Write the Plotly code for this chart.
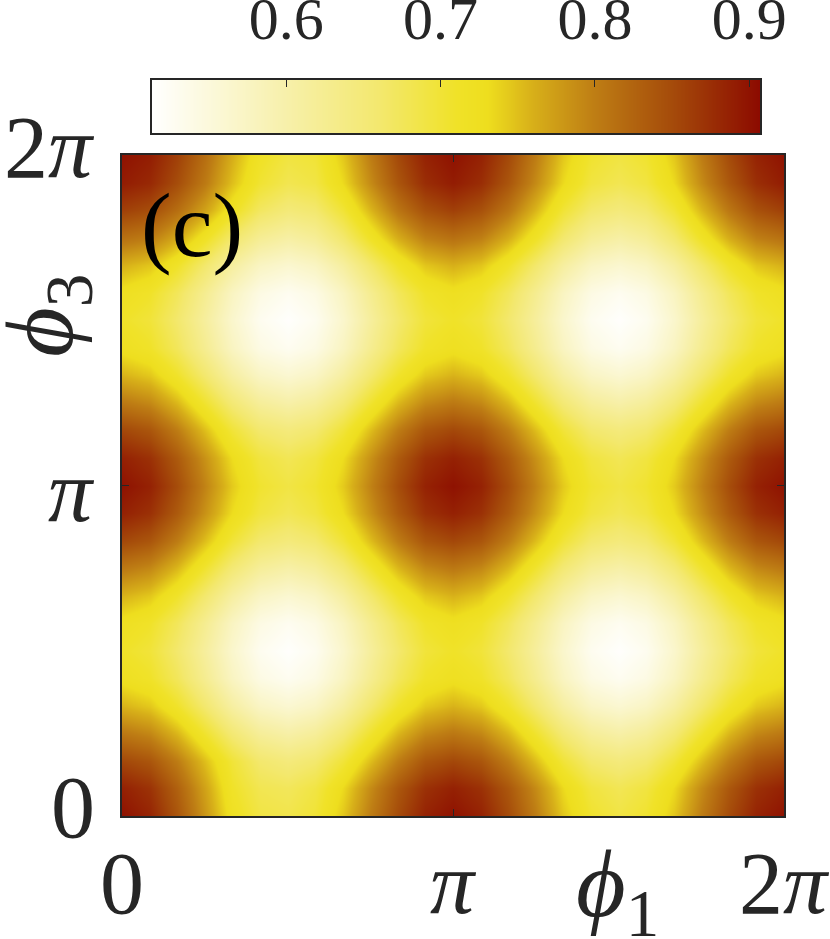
import plotly.graph_objects as go

# phi_1 and phi_3 sample positions, in units of pi
phi1_over_pi = [k / 12 for k in range(25)]
phi3_over_pi = [k / 12 for k in range(25)]

# Values, bottom row (phi_3 = 0) to top row (phi_3 = 2 pi)
z_values = [
[.900,.884,.840,.780,.720,.690,.685,.700,.745,.800,.850,.886,.900,.886,.850,.800,.745,.705,.690,.705,.745,.800,.850,.885,.900],
[.887,.871,.828,.770,.710,.680,.674,.690,.733,.788,.838,.873,.887,.873,.838,.788,.733,.693,.678,.693,.733,.788,.838,.873,.887],
[.853,.839,.801,.750,.698,.660,.647,.660,.698,.750,.801,.839,.853,.839,.801,.750,.698,.660,.647,.660,.698,.750,.801,.839,.853],
[.805,.791,.755,.704,.654,.617,.603,.617,.654,.704,.755,.791,.805,.791,.755,.704,.654,.617,.603,.617,.654,.704,.755,.791,.805],
[.758,.744,.708,.659,.609,.573,.560,.573,.609,.659,.708,.744,.758,.744,.708,.659,.609,.573,.560,.573,.609,.659,.708,.744,.758],
[.723,.709,.674,.625,.576,.541,.528,.541,.576,.625,.674,.709,.723,.709,.674,.625,.576,.541,.528,.541,.576,.625,.674,.709,.723],
[.710,.697,.661,.613,.565,.529,.516,.529,.565,.613,.661,.697,.710,.697,.661,.613,.565,.529,.516,.529,.565,.613,.661,.697,.710],
[.723,.709,.674,.625,.576,.541,.528,.541,.576,.625,.674,.709,.723,.709,.674,.625,.576,.541,.528,.541,.576,.625,.674,.709,.723],
[.758,.744,.708,.659,.609,.573,.560,.573,.609,.659,.708,.744,.758,.744,.708,.659,.609,.573,.560,.573,.609,.659,.708,.744,.758],
[.805,.791,.755,.704,.654,.617,.603,.617,.654,.704,.755,.791,.805,.791,.755,.704,.654,.617,.603,.617,.654,.704,.755,.791,.805],
[.853,.839,.801,.750,.698,.660,.647,.660,.698,.750,.801,.839,.853,.839,.801,.750,.698,.660,.647,.660,.698,.750,.801,.839,.853],
[.887,.873,.835,.783,.731,.693,.678,.693,.731,.783,.835,.873,.887,.873,.835,.783,.731,.693,.678,.693,.731,.783,.835,.873,.887],
[.900,.886,.848,.795,.743,.704,.690,.704,.743,.795,.848,.886,.900,.886,.848,.795,.743,.704,.690,.704,.743,.795,.848,.886,.900],
[.887,.873,.835,.783,.731,.693,.678,.693,.731,.783,.835,.873,.887,.873,.835,.783,.731,.693,.678,.693,.731,.783,.835,.873,.887],
[.853,.839,.801,.750,.698,.660,.647,.660,.698,.750,.801,.839,.853,.839,.801,.750,.698,.660,.647,.660,.698,.750,.801,.839,.853],
[.805,.791,.755,.704,.654,.617,.603,.617,.654,.704,.755,.791,.805,.791,.755,.704,.654,.617,.603,.617,.654,.704,.755,.791,.805],
[.758,.744,.708,.659,.609,.573,.560,.573,.609,.659,.708,.744,.758,.744,.708,.659,.609,.573,.560,.573,.609,.659,.708,.744,.758],
[.723,.709,.674,.625,.576,.541,.528,.541,.576,.625,.674,.709,.723,.709,.674,.625,.576,.541,.528,.541,.576,.625,.674,.709,.723],
[.710,.697,.661,.613,.565,.529,.516,.529,.565,.613,.661,.697,.710,.697,.661,.613,.565,.529,.516,.529,.565,.613,.661,.697,.710],
[.723,.709,.674,.625,.576,.541,.528,.541,.576,.625,.674,.709,.723,.709,.674,.625,.576,.541,.528,.541,.576,.625,.674,.709,.723],
[.760,.746,.710,.661,.611,.575,.562,.575,.611,.661,.710,.746,.760,.746,.710,.661,.611,.575,.562,.575,.611,.661,.710,.746,.760],
[.812,.800,.765,.715,.662,.622,.606,.620,.660,.712,.762,.798,.812,.798,.762,.712,.660,.620,.605,.620,.660,.712,.762,.798,.812],
[.860,.848,.815,.770,.717,.670,.650,.660,.700,.755,.808,.844,.860,.844,.808,.755,.700,.662,.648,.662,.700,.755,.806,.844,.860],
[.891,.880,.848,.803,.750,.702,.681,.690,.733,.788,.840,.876,.891,.876,.840,.788,.733,.693,.680,.693,.733,.788,.838,.875,.891],
[.900,.890,.860,.815,.762,.714,.693,.700,.745,.800,.852,.886,.900,.886,.852,.800,.745,.705,.692,.705,.745,.800,.850,.885,.900],
]

axis_tick_positions = [0, 1, 2]
x_tick_labels = ["0", "<i>π</i>", "2<i>π</i>"]
y_tick_labels = ["0", "<i>π</i>", "2<i>π</i>"]
colorbar_ticks = [0.6, 0.7, 0.8, 0.9]
colorbar_tick_labels = ["0.6", "0.7", "0.8", "0.9"]
z_min, z_max = 0.513, 0.907
# colour key: the levels it paints, from the low end to the high end
key_levels = [z_min, 0.55, 0.60, 0.63, 0.66, 0.69, 0.71, 0.73, 0.745, 0.76, 0.78, 0.80, 0.825, 0.85, 0.88, z_max]

colorscale = [
    [0.0, "rgb(255,255,255)"],
    [0.221, "rgb(247,240,170)"],
    [0.373, "rgb(243,232,110)"],
    [0.50, "rgb(240,226,40)"],
    [0.551, "rgb(238,222,30)"],
    [0.627, "rgb(215,175,25)"],
    [0.728, "rgb(190,125,20)"],
    [0.855, "rgb(165,75,10)"],
    [1.0, "rgb(140,10,0)"],
]

W, H = 830, 939
INK = "#262626"
SERIF = "Liberation Serif"
PLOT_L, PLOT_R, PLOT_T, PLOT_B = 122, 784, 155, 816
CB_L, CB_R, CB_T, CB_B = 152, 760, 80, 133

fig = go.Figure()
fig.add_trace(go.Heatmap(
    x=phi1_over_pi, y=phi3_over_pi, z=z_values,
    zmin=z_min, zmax=z_max, zsmooth="best", colorscale=colorscale, showscale=False,
))
fig.add_trace(go.Heatmap(
    x=key_levels, y=[0, 1], z=[key_levels, key_levels],
    zmin=z_min, zmax=z_max, zsmooth="best", colorscale=colorscale, showscale=False,
    xaxis="x2", yaxis="y2", hoverinfo="skip",
))

axis_common = dict(
    range=[0, 2], tickmode="array", tickvals=axis_tick_positions, automargin=False,
    ticks="inside", ticklen=7, tickwidth=1, tickcolor=INK,
    showline=True, linecolor=INK, linewidth=1.5, mirror="ticks", showgrid=False, zeroline=False,
    showticklabels=False,
)

# tick labels are placed per tick: they overhang the page edge and sit off-centre in the reference
y_label_shift = [9, -6, 8]
y_label_annotations = [
    dict(text=label, xref="paper", yref="y", x=97 / W, y=pos, xanchor="right", yanchor="middle",
         yshift=shift, showarrow=False, font=dict(family=SERIF, size=88, color=INK))
    for label, pos, shift in zip(y_tick_labels, axis_tick_positions, y_label_shift)
]
x_label_annotations = [
    dict(text=label, xref="x", yref="paper", x=pos, y=1 - 883 / H, xanchor="center", yanchor="middle",
         showarrow=False, font=dict(family=SERIF, size=88, color=INK))
    for label, pos in zip(x_tick_labels, axis_tick_positions)
]

fig.update_layout(
    width=W, height=H, margin=dict(l=0, r=0, t=0, b=0, autoexpand=False),
    paper_bgcolor="white", plot_bgcolor="white", showlegend=False,
    xaxis=dict(axis_common, domain=[PLOT_L / W, PLOT_R / W]),
    yaxis=dict(axis_common, domain=[1 - PLOT_B / H, 1 - PLOT_T / H]),
    xaxis2=dict(domain=[CB_L / W, CB_R / W], range=[z_min, z_max], anchor="y2", side="top", automargin=False,
                tickmode="array", tickvals=colorbar_ticks, ticktext=colorbar_tick_labels,
                ticks="inside", ticklen=7, tickwidth=1, tickcolor=INK,
                showline=True, linecolor=INK, linewidth=1.5, mirror=True, showgrid=False, zeroline=False,
                ticklabelstandoff=15, tickfont=dict(family=SERIF, size=60, color=INK)),
    yaxis2=dict(domain=[1 - CB_B / H, 1 - CB_T / H], range=[0, 1], anchor="x2", automargin=False,
                showticklabels=False, ticks="", showline=True, linecolor=INK, linewidth=1.5,
                mirror=True, showgrid=False, zeroline=False),
    annotations=y_label_annotations + x_label_annotations + [
        dict(text="(c)", xref="paper", yref="paper", x=192 / W, y=1 - 225 / H,
             xanchor="center", yanchor="middle",
             showarrow=False, font=dict(family=SERIF, size=92, color="black")),
        dict(text="<i>ϕ</i><sub>1</sub>", xref="paper", yref="paper", x=617 / W, y=1 - 890 / H,
             xanchor="center", yanchor="middle",
             showarrow=False, font=dict(family=SERIF, size=96, color=INK)),
        dict(text="<i>ϕ</i><sub>3</sub>", xref="paper", yref="paper", x=46 / W, y=1 - 316 / H,
             xanchor="center", yanchor="middle",
             textangle=-90, showarrow=False, font=dict(family=SERIF, size=96, color=INK)),
    ],
)

fig.write_html("out.html", config={"displayModeBar": False},
               post_script="document.body.style.margin='0';")
